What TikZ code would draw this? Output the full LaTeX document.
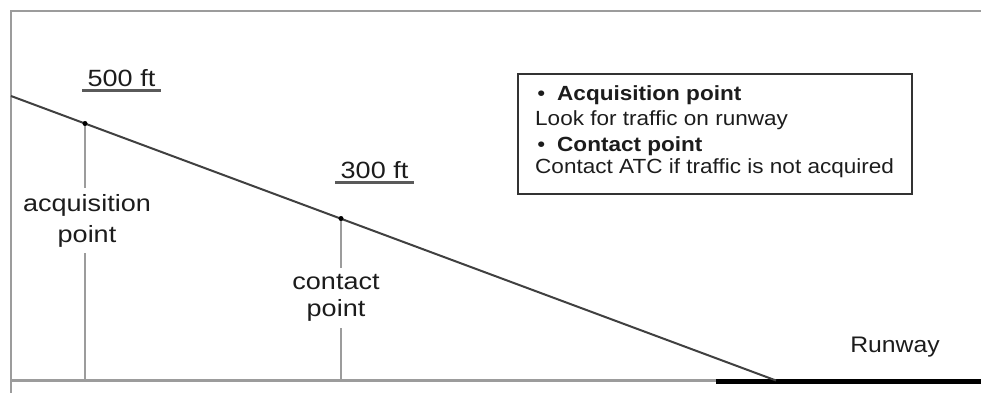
\documentclass[tikz,border=0pt]{standalone}
\usepackage{fontspec}
\setmainfont{Liberation Sans}
\newcommand{\sx}[1]{\scalebox{1.15}[1]{#1}}
\newcommand{\sxb}[1]{\scalebox{1.1}[1]{#1}}
\definecolor{framegray}{HTML}{9C9C9C}
\definecolor{glidegray}{HTML}{404040}
\definecolor{ulgray}{HTML}{5A5A5A}
\definecolor{boxgray}{HTML}{333333}
\definecolor{textc}{HTML}{1C1C1C}
\begin{document}
\begin{tikzpicture}[x=1pt,y=-1pt,
  frame/.style={draw=framegray,line width=2.5pt},
  vline/.style={draw=framegray,line width=2pt},
  glide/.style={draw=glidegray,line width=2pt},
  dot/.style={circle,fill=black,inner sep=0pt,minimum size=5pt},
  lbl/.style={align=center,inner sep=0pt,text=textc},
  alt/.style={font=\fontsize{23.5}{28}\selectfont,inner xsep=5pt,inner ysep=0pt,anchor=base,text=textc},
  ul/.style={draw=ulgray,line width=3pt},
  boxtxt/.style={font=\fontsize{20.5}{24}\selectfont,anchor=base west,inner sep=0pt,text=textc}]
\useasboundingbox (0,0) rectangle (981,393);
% frame and ground
\coordinate (tl) at (11,11);
\coordinate (tr) at (981,11);
\coordinate (bl) at (11,393);
\coordinate (g0) at (11,380.5);
\coordinate (rw0) at (716,380.5);
\coordinate (rwa) at (716,381.7);
\coordinate (rwb) at (981,381.7);
\draw[frame] (tr) -- (tl) -- (bl);
\draw[frame] (g0) -- (rw0);
\draw[draw=black,line width=4.7pt] (rwa) -- (rwb);
% glide path
\coordinate (gs0) at (11,96);
\coordinate (td) at (776,380.5);
\coordinate (ap) at (85,123.5);
\coordinate (cp) at (341,218.5);
\coordinate (aground) at (85,380.5);
\coordinate (cground) at (341,380.5);
\draw[glide] (gs0) -- (td);
% labels
\node[lbl,font=\fontsize{23.5}{31}\selectfont,minimum height=65pt] (alab) at (87,220.5) {\sx{acquisition}\\\sx{point}};
\node[lbl,font=\fontsize{23.5}{27}\selectfont,minimum height=60pt] (clab) at (336,298) {\sx{contact}\\\sx{point}};
\draw[vline] (ap) -- (ap |- alab.north);
\draw[vline] (ap |- alab.south) -- (aground);
\draw[vline] (cp) -- (cp |- clab.north);
\draw[vline] (cp |- clab.south) -- (cground);
\node[dot] (adot) at (ap) {};
\node[dot] (cdot) at (cp) {};
% altitudes
\node[alt] (a500) at (121.5,87) {\sx{500 ft}};
\draw[ul] ([yshift=-4pt]a500.base west) -- ([yshift=-4pt]a500.base east);
\node[alt] (a300) at (374.5,178) {\sx{300 ft}};
\draw[ul] ([yshift=-4pt]a300.base west) -- ([yshift=-4pt]a300.base east);
% legend box
\node[draw=boxgray,line width=2.5pt,minimum width=394pt,minimum height=120pt,inner sep=0pt] (box) at (715,134) {};
\node[boxtxt] (b1) at (535,100) {\sxb{\makebox[20pt][l]{\hspace{2pt}\textbullet}\textbf{Acquisition point}}};
\node[boxtxt] (b2) at (535,125) {\sxb{Look for traffic on runway}};
\node[boxtxt] (b3) at (535,151) {\sxb{\makebox[20pt][l]{\hspace{2pt}\textbullet}\textbf{Contact point}}};
\node[boxtxt] (b4) at (535,173) {\sxb{Contact ATC if traffic is not acquired}};
% runway
\node[alt,font=\fontsize{22.5}{27}\selectfont,inner xsep=0pt] (rw) at (895,352) {\sxb{Runway}};
\end{tikzpicture}
\end{document}
